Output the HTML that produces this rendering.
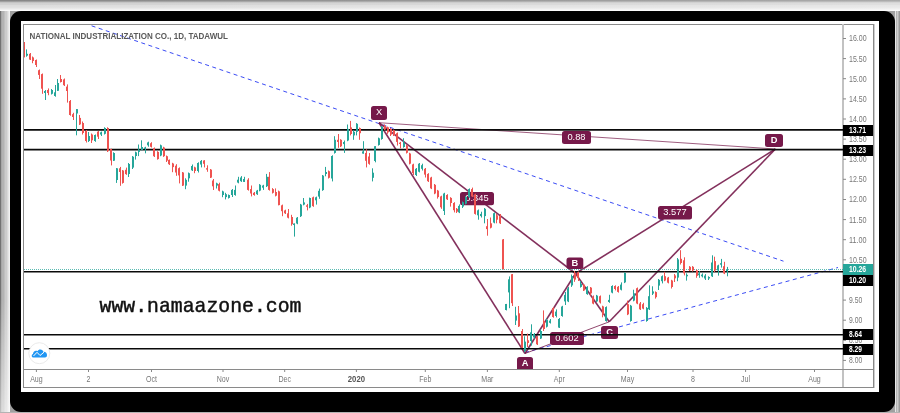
<!DOCTYPE html><html><head><meta charset="utf-8"><style>html,body{margin:0;padding:0;background:#fff;width:900px;height:413px;overflow:hidden}svg{display:block;will-change:transform}text{font-family:"Liberation Sans",sans-serif}</style></head><body>
<svg width="900" height="413" viewBox="0 0 900 413">
<rect x="0" y="0" width="900" height="413" fill="#fff"/>
<rect x="0" y="0" width="900" height="1" fill="rgb(135,135,135)"/>
<rect x="0" y="1" width="900" height="1" fill="rgb(160,160,160)"/>
<rect x="0" y="2" width="900" height="1" fill="rgb(195,195,195)"/>
<rect x="0" y="3" width="900" height="1" fill="rgb(208,208,208)"/>
<rect x="0" y="4" width="900" height="1" fill="rgb(210,210,210)"/>
<rect x="0" y="5" width="900" height="1" fill="rgb(220,220,220)"/>
<rect x="0" y="6" width="900" height="1" fill="rgb(222,222,222)"/>
<rect x="0" y="7" width="900" height="1" fill="rgb(225,225,225)"/>
<rect x="0" y="8" width="900" height="1" fill="rgb(232,232,232)"/>
<rect x="0" y="9" width="900" height="1" fill="rgb(240,240,240)"/>
<rect x="0" y="10" width="900" height="1" fill="rgb(250,250,250)"/>
<rect x="0" y="11" width="1" height="402" fill="rgb(115,115,115)"/>
<rect x="1" y="11" width="1" height="402" fill="rgb(166,166,166)"/>
<rect x="2" y="11" width="1" height="402" fill="rgb(179,179,179)"/>
<rect x="3" y="11" width="1" height="402" fill="rgb(179,179,179)"/>
<rect x="4" y="11" width="1" height="402" fill="rgb(191,191,191)"/>
<rect x="5" y="11" width="1" height="402" fill="rgb(204,204,204)"/>
<rect x="6" y="11" width="1" height="402" fill="rgb(204,204,204)"/>
<rect x="7" y="11" width="1" height="402" fill="rgb(217,217,217)"/>
<rect x="8" y="11" width="1" height="402" fill="rgb(230,230,230)"/>
<rect x="9" y="11" width="1" height="402" fill="rgb(242,242,242)"/>
<defs><linearGradient id="lb" x1="0" y1="0" x2="0" y2="1"><stop offset="0" stop-color="#fff" stop-opacity="0"/><stop offset="1" stop-color="#fff" stop-opacity="0.55"/></linearGradient><linearGradient id="tb" x1="0" y1="0" x2="1" y2="0"><stop offset="0" stop-color="#fff" stop-opacity="0"/><stop offset="1" stop-color="#fff" stop-opacity="0.3"/></linearGradient></defs>
<rect x="0" y="300" width="10" height="113" fill="url(#lb)"/>
<rect x="0" y="0" width="900" height="11" fill="url(#tb)"/>
<rect x="895" y="11" width="1" height="402" fill="rgb(230,230,230)"/>
<rect x="896" y="11" width="1" height="402" fill="rgb(179,179,179)"/>
<rect x="897" y="11" width="1" height="402" fill="rgb(204,204,204)"/>
<rect x="898" y="11" width="1" height="402" fill="rgb(179,179,179)"/>
<rect x="899" y="11" width="1" height="402" fill="rgb(153,153,153)"/>
<rect x="0" y="412" width="900" height="1" fill="rgb(179,179,179)"/>
<rect x="10" y="11" width="885" height="401" fill="#a0a0a0"/>
<rect x="10" y="11" width="885" height="401" rx="11" ry="11" fill="#000"/>
<rect x="21" y="21" width="858" height="371" fill="#fff"/>
<rect x="23.5" y="24.5" width="850" height="363" fill="none" stroke="#8a8a8a" stroke-width="1"/>
<rect x="874" y="24" width="1" height="364" fill="#cfcfcf"/>
<rect x="842" y="24" width="2" height="363" fill="#c2c2c2"/>
<line x1="23" y1="369.5" x2="873" y2="369.5" stroke="#8a8a8a" stroke-width="1"/>
<defs><clipPath id="c"><rect x="24" y="25" width="819" height="344"/></clipPath></defs>
<g clip-path="url(#c)">
<line x1="91.6" y1="25.8" x2="783.5" y2="261.2" stroke="#3b4cf5" stroke-width="1" stroke-dasharray="4 3.5"/>
<line x1="525" y1="352.5" x2="838" y2="267.5" stroke="#3b4cf5" stroke-width="1" stroke-dasharray="4 3.5"/>
<line x1="379" y1="122.7" x2="775.4" y2="149" stroke="#76194a" stroke-width="1" stroke-opacity="0.7"/>
<line x1="525" y1="353.5" x2="609.2" y2="321.8" stroke="#76194a" stroke-width="1" stroke-opacity="0.8"/>
<line x1="379" y1="122.7" x2="525" y2="353.5" stroke="#76194a" stroke-width="1.6" stroke-opacity="0.9"/>
<line x1="525" y1="353.5" x2="575.5" y2="273.5" stroke="#76194a" stroke-width="1.6" stroke-opacity="0.9"/>
<line x1="575.5" y1="273.5" x2="609.2" y2="321.8" stroke="#76194a" stroke-width="1.6" stroke-opacity="0.9"/>
<line x1="609.2" y1="321.8" x2="775.4" y2="149" stroke="#76194a" stroke-width="1.6" stroke-opacity="0.9"/>
<line x1="379" y1="122.7" x2="575.5" y2="273.5" stroke="#76194a" stroke-width="1.6" stroke-opacity="0.9"/>
<line x1="575.5" y1="273.5" x2="775.4" y2="149" stroke="#76194a" stroke-width="1.6" stroke-opacity="0.9"/>
<rect x="371" y="106" width="16" height="14" rx="2.5" fill="#76194a"/>
<text x="379.0" y="114.6" font-size="9.3" fill="#fff" text-anchor="middle">X</text>
<rect x="517" y="357" width="16" height="14" rx="2.5" fill="#76194a"/>
<text x="525.0" y="365.6" font-size="9.3" fill="#fff" text-anchor="middle" font-weight="bold">A</text>
<rect x="566.5" y="257.5" width="16.799999999999955" height="11.5" rx="2.5" fill="#76194a"/>
<text x="574.9" y="266.1" font-size="9.3" fill="#fff" text-anchor="middle" font-weight="bold">B</text>
<rect x="601" y="326" width="17" height="13" rx="2.5" fill="#76194a"/>
<text x="609.5" y="334.6" font-size="9.3" fill="#fff" text-anchor="middle" font-weight="bold">C</text>
<rect x="765" y="134" width="18" height="13" rx="2.5" fill="#76194a"/>
<text x="774.0" y="142.6" font-size="9.3" fill="#fff" text-anchor="middle" font-weight="bold">D</text>
<rect x="562" y="131" width="29" height="13" rx="2.5" fill="#76194a"/>
<text x="576.5" y="139.6" font-size="9.3" fill="#fff" text-anchor="middle">0.88</text>
<rect x="460" y="192" width="34" height="13.300000000000011" rx="2.5" fill="#76194a"/>
<text x="477.0" y="200.6" font-size="9.3" fill="#fff" text-anchor="middle">0.345</text>
<rect x="658" y="206" width="34" height="13.599999999999994" rx="2.5" fill="#76194a"/>
<text x="675.0" y="214.6" font-size="9.3" fill="#fff" text-anchor="middle">3.577</text>
<rect x="550" y="332" width="34" height="13" rx="2.5" fill="#76194a"/>
<text x="567.0" y="340.6" font-size="9.3" fill="#fff" text-anchor="middle">0.602</text>
<line x1="24" y1="129.9" x2="843" y2="129.9" stroke="#0a0a0a" stroke-width="1.6"/>
<line x1="24" y1="149.6" x2="843" y2="149.6" stroke="#0a0a0a" stroke-width="1.6"/>
<line x1="24" y1="271.8" x2="843" y2="271.8" stroke="#0a0a0a" stroke-width="1.6"/>
<line x1="24" y1="334.7" x2="843" y2="334.7" stroke="#0a0a0a" stroke-width="1.6"/>
<line x1="24" y1="348.7" x2="843" y2="348.7" stroke="#0a0a0a" stroke-width="1.6"/>
<line x1="24" y1="269.5" x2="843" y2="269.5" stroke="#26a69a" stroke-width="1" stroke-dasharray="1 1" stroke-opacity="0.75"/>
<rect x="24" y="42.0" width="1" height="15.4" fill="#ef5350"/>
<rect x="23" y="42.0" width="2" height="15.0" fill="#ef5350"/>
<rect x="26" y="49.4" width="1" height="7.3" fill="#26a69a"/>
<rect x="26" y="53.8" width="2" height="1.9" fill="#26a69a"/>
<rect x="30" y="53.0" width="1" height="7.0" fill="#ef5350"/>
<rect x="29" y="53.8" width="2" height="5.8" fill="#ef5350"/>
<rect x="32" y="56.5" width="1" height="6.7" fill="#ef5350"/>
<rect x="32" y="57.4" width="2" height="3.6" fill="#ef5350"/>
<rect x="36" y="59.5" width="1" height="7.5" fill="#ef5350"/>
<rect x="35" y="60.0" width="2" height="5.0" fill="#ef5350"/>
<rect x="39" y="69.5" width="1" height="9.5" fill="#ef5350"/>
<rect x="38" y="70.2" width="2" height="4.7" fill="#ef5350"/>
<rect x="42" y="73.5" width="1" height="20.3" fill="#ef5350"/>
<rect x="41" y="74.1" width="2" height="14.6" fill="#ef5350"/>
<rect x="45" y="90.0" width="1" height="10.0" fill="#26a69a"/>
<rect x="44" y="91.0" width="2" height="2.0" fill="#26a69a"/>
<rect x="48" y="88.4" width="1" height="6.8" fill="#ef5350"/>
<rect x="47" y="90.0" width="2" height="3.0" fill="#ef5350"/>
<rect x="51" y="89.0" width="1" height="5.5" fill="#26a69a"/>
<rect x="51" y="90.0" width="2" height="3.8" fill="#26a69a"/>
<rect x="55" y="85.0" width="1" height="11.7" fill="#26a69a"/>
<rect x="54" y="92.3" width="2" height="3.7" fill="#26a69a"/>
<rect x="57" y="79.0" width="1" height="11.8" fill="#26a69a"/>
<rect x="57" y="83.0" width="2" height="7.8" fill="#26a69a"/>
<rect x="60" y="75.0" width="1" height="7.5" fill="#ef5350"/>
<rect x="60" y="79.0" width="2" height="3.0" fill="#ef5350"/>
<rect x="64" y="78.5" width="1" height="7.5" fill="#ef5350"/>
<rect x="63" y="79.4" width="2" height="5.8" fill="#ef5350"/>
<rect x="67" y="84.4" width="1" height="18.2" fill="#ef5350"/>
<rect x="66" y="86.6" width="2" height="4.4" fill="#ef5350"/>
<rect x="70" y="100.0" width="1" height="15.7" fill="#ef5350"/>
<rect x="69" y="101.0" width="2" height="14.0" fill="#ef5350"/>
<rect x="73" y="112.8" width="1" height="7.2" fill="#ef5350"/>
<rect x="72" y="114.2" width="2" height="2.8" fill="#ef5350"/>
<rect x="76" y="109.1" width="1" height="26.2" fill="#26a69a"/>
<rect x="76" y="109.1" width="2" height="4.4" fill="#26a69a"/>
<rect x="79" y="115.0" width="1" height="10.0" fill="#ef5350"/>
<rect x="79" y="117.9" width="2" height="6.5" fill="#ef5350"/>
<rect x="82" y="121.5" width="1" height="13.0" fill="#ef5350"/>
<rect x="82" y="123.0" width="2" height="10.0" fill="#ef5350"/>
<rect x="86" y="130.0" width="1" height="12.5" fill="#ef5350"/>
<rect x="85" y="131.0" width="2" height="10.0" fill="#ef5350"/>
<rect x="88" y="132.0" width="1" height="10.0" fill="#26a69a"/>
<rect x="88" y="136.0" width="2" height="5.0" fill="#26a69a"/>
<rect x="91" y="133.5" width="1" height="9.5" fill="#ef5350"/>
<rect x="91" y="134.5" width="2" height="5.8" fill="#ef5350"/>
<rect x="95" y="134.5" width="1" height="7.3" fill="#26a69a"/>
<rect x="94" y="135.0" width="2" height="6.0" fill="#26a69a"/>
<rect x="98" y="131.0" width="1" height="8.0" fill="#ef5350"/>
<rect x="97" y="131.6" width="2" height="5.1" fill="#ef5350"/>
<rect x="101" y="131.6" width="1" height="4.4" fill="#26a69a"/>
<rect x="100" y="132.3" width="2" height="2.2" fill="#26a69a"/>
<rect x="104" y="127.3" width="1" height="7.2" fill="#26a69a"/>
<rect x="104" y="128.0" width="2" height="5.8" fill="#26a69a"/>
<rect x="107" y="127.3" width="1" height="24.7" fill="#ef5350"/>
<rect x="107" y="128.0" width="2" height="23.2" fill="#ef5350"/>
<rect x="111" y="148.7" width="1" height="16.7" fill="#ef5350"/>
<rect x="110" y="149.0" width="2" height="11.5" fill="#ef5350"/>
<rect x="113" y="152.3" width="1" height="8.7" fill="#26a69a"/>
<rect x="113" y="153.0" width="2" height="7.7" fill="#26a69a"/>
<rect x="116" y="168.0" width="1" height="14.9" fill="#26a69a"/>
<rect x="116" y="168.3" width="2" height="11.7" fill="#26a69a"/>
<rect x="120" y="166.9" width="1" height="18.9" fill="#ef5350"/>
<rect x="119" y="168.3" width="2" height="3.7" fill="#ef5350"/>
<rect x="122" y="170.0" width="1" height="13.6" fill="#ef5350"/>
<rect x="122" y="170.5" width="2" height="12.4" fill="#ef5350"/>
<rect x="126" y="167.6" width="1" height="7.2" fill="#ef5350"/>
<rect x="125" y="169.8" width="2" height="4.3" fill="#ef5350"/>
<rect x="128" y="163.0" width="1" height="14.0" fill="#26a69a"/>
<rect x="128" y="164.0" width="2" height="10.0" fill="#26a69a"/>
<rect x="132" y="156.0" width="1" height="13.0" fill="#26a69a"/>
<rect x="132" y="156.7" width="2" height="10.9" fill="#26a69a"/>
<rect x="135" y="151.6" width="1" height="8.0" fill="#26a69a"/>
<rect x="135" y="152.3" width="2" height="3.7" fill="#26a69a"/>
<rect x="138" y="144.5" width="1" height="11.6" fill="#26a69a"/>
<rect x="138" y="149.7" width="2" height="2.2" fill="#26a69a"/>
<rect x="141" y="140.3" width="1" height="10.1" fill="#26a69a"/>
<rect x="141" y="147.0" width="2" height="3.0" fill="#26a69a"/>
<rect x="145" y="146.8" width="1" height="6.5" fill="#26a69a"/>
<rect x="144" y="147.5" width="2" height="1.5" fill="#26a69a"/>
<rect x="148" y="141.7" width="1" height="5.0" fill="#26a69a"/>
<rect x="147" y="142.4" width="2" height="2.9" fill="#26a69a"/>
<rect x="151" y="142.2" width="1" height="5.3" fill="#ef5350"/>
<rect x="150" y="143.2" width="2" height="3.6" fill="#ef5350"/>
<rect x="154" y="147.5" width="1" height="9.5" fill="#ef5350"/>
<rect x="153" y="148.2" width="2" height="8.0" fill="#ef5350"/>
<rect x="157" y="151.2" width="1" height="8.4" fill="#ef5350"/>
<rect x="157" y="151.9" width="2" height="7.2" fill="#ef5350"/>
<rect x="160" y="144.6" width="1" height="11.6" fill="#26a69a"/>
<rect x="160" y="145.3" width="2" height="10.2" fill="#26a69a"/>
<rect x="163" y="146.8" width="1" height="10.1" fill="#ef5350"/>
<rect x="163" y="147.5" width="2" height="8.7" fill="#ef5350"/>
<rect x="166" y="155.5" width="1" height="6.5" fill="#ef5350"/>
<rect x="166" y="156.2" width="2" height="4.4" fill="#ef5350"/>
<rect x="169" y="159.5" width="1" height="5.5" fill="#ef5350"/>
<rect x="168" y="159.9" width="2" height="4.3" fill="#ef5350"/>
<rect x="172" y="162.8" width="1" height="9.4" fill="#ef5350"/>
<rect x="172" y="163.5" width="2" height="3.6" fill="#ef5350"/>
<rect x="176" y="164.2" width="1" height="11.6" fill="#ef5350"/>
<rect x="175" y="165.7" width="2" height="6.8" fill="#ef5350"/>
<rect x="179" y="167.4" width="1" height="16.0" fill="#ef5350"/>
<rect x="178" y="168.2" width="2" height="7.2" fill="#ef5350"/>
<rect x="182" y="172.0" width="1" height="14.0" fill="#ef5350"/>
<rect x="182" y="172.5" width="2" height="13.1" fill="#ef5350"/>
<rect x="185" y="178.3" width="1" height="10.9" fill="#26a69a"/>
<rect x="185" y="179.8" width="2" height="5.8" fill="#26a69a"/>
<rect x="188" y="172.5" width="1" height="9.2" fill="#26a69a"/>
<rect x="188" y="173.2" width="2" height="5.1" fill="#26a69a"/>
<rect x="192" y="164.5" width="1" height="6.5" fill="#26a69a"/>
<rect x="191" y="166.0" width="2" height="4.3" fill="#26a69a"/>
<rect x="194" y="166.7" width="1" height="6.5" fill="#ef5350"/>
<rect x="194" y="167.4" width="2" height="3.6" fill="#ef5350"/>
<rect x="198" y="162.3" width="1" height="10.2" fill="#26a69a"/>
<rect x="197" y="163.0" width="2" height="8.0" fill="#26a69a"/>
<rect x="201" y="160.0" width="1" height="7.4" fill="#26a69a"/>
<rect x="200" y="160.9" width="2" height="3.6" fill="#26a69a"/>
<rect x="204" y="160.2" width="1" height="7.2" fill="#ef5350"/>
<rect x="203" y="160.5" width="2" height="3.3" fill="#ef5350"/>
<rect x="207" y="165.3" width="1" height="6.5" fill="#ef5350"/>
<rect x="206" y="168.2" width="2" height="1.4" fill="#ef5350"/>
<rect x="210" y="169.0" width="1" height="9.0" fill="#ef5350"/>
<rect x="210" y="169.6" width="2" height="8.0" fill="#ef5350"/>
<rect x="213" y="179.0" width="1" height="11.0" fill="#ef5350"/>
<rect x="212" y="180.5" width="2" height="5.8" fill="#ef5350"/>
<rect x="216" y="182.7" width="1" height="5.8" fill="#26a69a"/>
<rect x="216" y="183.4" width="2" height="2.2" fill="#26a69a"/>
<rect x="219" y="182.7" width="1" height="8.7" fill="#ef5350"/>
<rect x="218" y="184.1" width="2" height="6.6" fill="#ef5350"/>
<rect x="222" y="190.7" width="1" height="6.5" fill="#26a69a"/>
<rect x="222" y="191.4" width="2" height="3.6" fill="#26a69a"/>
<rect x="225" y="192.8" width="1" height="6.6" fill="#26a69a"/>
<rect x="225" y="194.2" width="2" height="2.9" fill="#26a69a"/>
<rect x="228" y="194.5" width="1" height="4.0" fill="#26a69a"/>
<rect x="228" y="195.0" width="2" height="2.9" fill="#26a69a"/>
<rect x="232" y="189.0" width="1" height="8.0" fill="#26a69a"/>
<rect x="231" y="189.9" width="2" height="5.1" fill="#26a69a"/>
<rect x="235" y="185.5" width="1" height="10.2" fill="#26a69a"/>
<rect x="234" y="189.9" width="2" height="5.1" fill="#26a69a"/>
<rect x="238" y="176.8" width="1" height="6.5" fill="#26a69a"/>
<rect x="237" y="179.7" width="2" height="2.9" fill="#26a69a"/>
<rect x="241" y="176.1" width="1" height="5.8" fill="#26a69a"/>
<rect x="240" y="177.5" width="2" height="3.7" fill="#26a69a"/>
<rect x="244" y="176.8" width="1" height="5.1" fill="#26a69a"/>
<rect x="243" y="179.0" width="2" height="2.9" fill="#26a69a"/>
<rect x="248" y="178.2" width="1" height="12.4" fill="#ef5350"/>
<rect x="247" y="179.7" width="2" height="10.2" fill="#ef5350"/>
<rect x="251" y="185.5" width="1" height="10.9" fill="#ef5350"/>
<rect x="250" y="189.1" width="2" height="4.4" fill="#ef5350"/>
<rect x="254" y="192.0" width="1" height="3.7" fill="#ef5350"/>
<rect x="253" y="192.8" width="2" height="2.2" fill="#ef5350"/>
<rect x="257" y="189.9" width="1" height="5.0" fill="#26a69a"/>
<rect x="256" y="190.6" width="2" height="3.6" fill="#26a69a"/>
<rect x="259" y="184.1" width="1" height="7.2" fill="#26a69a"/>
<rect x="259" y="184.8" width="2" height="5.8" fill="#26a69a"/>
<rect x="263" y="184.8" width="1" height="5.1" fill="#26a69a"/>
<rect x="262" y="185.5" width="2" height="2.2" fill="#26a69a"/>
<rect x="266" y="173.9" width="1" height="13.1" fill="#26a69a"/>
<rect x="266" y="176.8" width="2" height="9.4" fill="#26a69a"/>
<rect x="269" y="172.1" width="1" height="18.5" fill="#ef5350"/>
<rect x="268" y="176.8" width="2" height="13.1" fill="#ef5350"/>
<rect x="272" y="188.1" width="1" height="5.4" fill="#ef5350"/>
<rect x="272" y="189.1" width="2" height="3.7" fill="#ef5350"/>
<rect x="275" y="188.4" width="1" height="8.0" fill="#ef5350"/>
<rect x="275" y="192.0" width="2" height="3.7" fill="#ef5350"/>
<rect x="278" y="190.6" width="1" height="14.7" fill="#ef5350"/>
<rect x="278" y="191.3" width="2" height="13.8" fill="#ef5350"/>
<rect x="282" y="204.6" width="1" height="11.6" fill="#ef5350"/>
<rect x="281" y="205.3" width="2" height="5.9" fill="#ef5350"/>
<rect x="285" y="209.7" width="1" height="4.3" fill="#ef5350"/>
<rect x="284" y="210.4" width="2" height="2.9" fill="#ef5350"/>
<rect x="288" y="209.0" width="1" height="9.4" fill="#ef5350"/>
<rect x="287" y="213.3" width="2" height="4.4" fill="#ef5350"/>
<rect x="291" y="214.8" width="1" height="10.9" fill="#ef5350"/>
<rect x="291" y="217.0" width="2" height="7.2" fill="#ef5350"/>
<rect x="294" y="223.5" width="1" height="13.1" fill="#26a69a"/>
<rect x="293" y="223.5" width="2" height="1.5" fill="#26a69a"/>
<rect x="297" y="217.0" width="1" height="7.2" fill="#26a69a"/>
<rect x="296" y="217.7" width="2" height="5.8" fill="#26a69a"/>
<rect x="300" y="203.9" width="1" height="13.1" fill="#26a69a"/>
<rect x="300" y="204.6" width="2" height="11.6" fill="#26a69a"/>
<rect x="303" y="198.0" width="1" height="7.3" fill="#26a69a"/>
<rect x="303" y="202.4" width="2" height="2.2" fill="#26a69a"/>
<rect x="307" y="203.9" width="1" height="6.5" fill="#ef5350"/>
<rect x="306" y="205.3" width="2" height="1.5" fill="#ef5350"/>
<rect x="309" y="197.6" width="1" height="10.6" fill="#26a69a"/>
<rect x="309" y="198.0" width="2" height="9.5" fill="#26a69a"/>
<rect x="313" y="196.6" width="1" height="10.2" fill="#ef5350"/>
<rect x="312" y="197.3" width="2" height="8.8" fill="#ef5350"/>
<rect x="316" y="196.6" width="1" height="8.0" fill="#26a69a"/>
<rect x="315" y="197.3" width="2" height="3.0" fill="#26a69a"/>
<rect x="319" y="188.6" width="1" height="10.2" fill="#26a69a"/>
<rect x="318" y="190.8" width="2" height="5.8" fill="#26a69a"/>
<rect x="322" y="175.0" width="1" height="15.8" fill="#26a69a"/>
<rect x="322" y="175.6" width="2" height="14.5" fill="#26a69a"/>
<rect x="325" y="166.9" width="1" height="9.4" fill="#26a69a"/>
<rect x="325" y="172.0" width="2" height="2.0" fill="#26a69a"/>
<rect x="328" y="170.5" width="1" height="8.0" fill="#ef5350"/>
<rect x="328" y="171.2" width="2" height="6.6" fill="#ef5350"/>
<rect x="332" y="155.3" width="1" height="26.1" fill="#26a69a"/>
<rect x="331" y="156.0" width="2" height="22.5" fill="#26a69a"/>
<rect x="334" y="136.2" width="1" height="17.4" fill="#26a69a"/>
<rect x="334" y="139.8" width="2" height="13.1" fill="#26a69a"/>
<rect x="338" y="134.0" width="1" height="13.8" fill="#ef5350"/>
<rect x="337" y="139.8" width="2" height="2.2" fill="#ef5350"/>
<rect x="340" y="139.2" width="1" height="7.8" fill="#ef5350"/>
<rect x="340" y="139.8" width="2" height="6.5" fill="#ef5350"/>
<rect x="344" y="140.5" width="1" height="12.4" fill="#26a69a"/>
<rect x="343" y="142.0" width="2" height="2.1" fill="#26a69a"/>
<rect x="347" y="124.5" width="1" height="16.7" fill="#26a69a"/>
<rect x="347" y="128.9" width="2" height="11.6" fill="#26a69a"/>
<rect x="350" y="120.9" width="1" height="14.5" fill="#ef5350"/>
<rect x="350" y="127.4" width="2" height="6.6" fill="#ef5350"/>
<rect x="353" y="130.3" width="1" height="9.5" fill="#26a69a"/>
<rect x="353" y="131.8" width="2" height="3.6" fill="#26a69a"/>
<rect x="356" y="123.1" width="1" height="12.3" fill="#26a69a"/>
<rect x="356" y="123.8" width="2" height="8.0" fill="#26a69a"/>
<rect x="359" y="127.5" width="1" height="12.3" fill="#ef5350"/>
<rect x="359" y="128.2" width="2" height="5.0" fill="#ef5350"/>
<rect x="363" y="141.2" width="1" height="12.4" fill="#26a69a"/>
<rect x="362" y="151.4" width="2" height="2.2" fill="#26a69a"/>
<rect x="366" y="149.2" width="1" height="18.2" fill="#ef5350"/>
<rect x="365" y="152.9" width="2" height="7.9" fill="#ef5350"/>
<rect x="369" y="153.0" width="1" height="11.7" fill="#ef5350"/>
<rect x="368" y="156.5" width="2" height="7.3" fill="#ef5350"/>
<rect x="372" y="168.3" width="1" height="13.1" fill="#26a69a"/>
<rect x="372" y="172.7" width="2" height="5.1" fill="#26a69a"/>
<rect x="375" y="146.3" width="1" height="16.0" fill="#26a69a"/>
<rect x="374" y="146.2" width="2" height="14.8" fill="#26a69a"/>
<rect x="378" y="137.6" width="1" height="8.0" fill="#26a69a"/>
<rect x="378" y="138.3" width="2" height="6.6" fill="#26a69a"/>
<rect x="381" y="126.0" width="1" height="13.7" fill="#26a69a"/>
<rect x="381" y="126.7" width="2" height="12.3" fill="#26a69a"/>
<rect x="384" y="124.4" width="1" height="5.8" fill="#ef5350"/>
<rect x="384" y="125.9" width="2" height="3.6" fill="#ef5350"/>
<rect x="387" y="126.6" width="1" height="7.3" fill="#ef5350"/>
<rect x="387" y="127.3" width="2" height="5.1" fill="#ef5350"/>
<rect x="390" y="128.0" width="1" height="8.0" fill="#ef5350"/>
<rect x="390" y="128.8" width="2" height="5.8" fill="#ef5350"/>
<rect x="393" y="129.6" width="1" height="6.4" fill="#ef5350"/>
<rect x="393" y="130.3" width="2" height="5.0" fill="#ef5350"/>
<rect x="397" y="132.5" width="1" height="13.0" fill="#ef5350"/>
<rect x="396" y="133.2" width="2" height="8.7" fill="#ef5350"/>
<rect x="400" y="141.9" width="1" height="6.5" fill="#ef5350"/>
<rect x="399" y="142.6" width="2" height="1.4" fill="#ef5350"/>
<rect x="403" y="138.2" width="1" height="9.5" fill="#26a69a"/>
<rect x="403" y="142.6" width="2" height="4.4" fill="#26a69a"/>
<rect x="406" y="144.8" width="1" height="8.7" fill="#ef5350"/>
<rect x="406" y="145.5" width="2" height="7.3" fill="#ef5350"/>
<rect x="409" y="152.8" width="1" height="11.6" fill="#ef5350"/>
<rect x="409" y="153.5" width="2" height="10.2" fill="#ef5350"/>
<rect x="413" y="163.7" width="1" height="11.3" fill="#ef5350"/>
<rect x="412" y="164.4" width="2" height="8.7" fill="#ef5350"/>
<rect x="416" y="168.0" width="1" height="8.0" fill="#26a69a"/>
<rect x="415" y="168.8" width="2" height="6.2" fill="#26a69a"/>
<rect x="419" y="163.0" width="1" height="9.4" fill="#26a69a"/>
<rect x="418" y="163.7" width="2" height="8.0" fill="#26a69a"/>
<rect x="422" y="163.7" width="1" height="6.8" fill="#26a69a"/>
<rect x="421" y="165.2" width="2" height="3.6" fill="#26a69a"/>
<rect x="425" y="168.0" width="1" height="9.5" fill="#ef5350"/>
<rect x="424" y="168.8" width="2" height="5.8" fill="#ef5350"/>
<rect x="428" y="173.2" width="1" height="8.8" fill="#ef5350"/>
<rect x="427" y="173.9" width="2" height="7.3" fill="#ef5350"/>
<rect x="431" y="176.8" width="1" height="12.3" fill="#ef5350"/>
<rect x="430" y="177.5" width="2" height="10.9" fill="#ef5350"/>
<rect x="434" y="184.0" width="1" height="10.2" fill="#ef5350"/>
<rect x="434" y="184.8" width="2" height="8.7" fill="#ef5350"/>
<rect x="437" y="189.9" width="1" height="8.7" fill="#ef5350"/>
<rect x="437" y="190.6" width="2" height="6.5" fill="#ef5350"/>
<rect x="441" y="195.7" width="1" height="13.1" fill="#ef5350"/>
<rect x="440" y="196.4" width="2" height="10.9" fill="#ef5350"/>
<rect x="444" y="192.8" width="1" height="22.2" fill="#26a69a"/>
<rect x="443" y="193.5" width="2" height="17.5" fill="#26a69a"/>
<rect x="447" y="194.2" width="1" height="5.8" fill="#ef5350"/>
<rect x="446" y="195.0" width="2" height="4.3" fill="#ef5350"/>
<rect x="450" y="197.2" width="1" height="9.4" fill="#ef5350"/>
<rect x="450" y="197.9" width="2" height="5.1" fill="#ef5350"/>
<rect x="454" y="202.2" width="1" height="10.2" fill="#ef5350"/>
<rect x="453" y="203.0" width="2" height="7.2" fill="#ef5350"/>
<rect x="456" y="208.0" width="1" height="5.0" fill="#ef5350"/>
<rect x="456" y="208.8" width="2" height="2.9" fill="#ef5350"/>
<rect x="459" y="204.4" width="1" height="8.7" fill="#26a69a"/>
<rect x="458" y="205.9" width="2" height="6.5" fill="#26a69a"/>
<rect x="462" y="201.5" width="1" height="6.5" fill="#26a69a"/>
<rect x="462" y="202.2" width="2" height="4.4" fill="#26a69a"/>
<rect x="465" y="196.4" width="1" height="8.0" fill="#26a69a"/>
<rect x="465" y="197.1" width="2" height="6.6" fill="#26a69a"/>
<rect x="469" y="188.4" width="1" height="9.4" fill="#26a69a"/>
<rect x="468" y="189.1" width="2" height="8.0" fill="#26a69a"/>
<rect x="472" y="187.6" width="1" height="9.4" fill="#ef5350"/>
<rect x="471" y="189.1" width="2" height="7.3" fill="#ef5350"/>
<rect x="475" y="193.7" width="1" height="20.9" fill="#ef5350"/>
<rect x="474" y="194.4" width="2" height="19.5" fill="#ef5350"/>
<rect x="478" y="209.5" width="1" height="10.2" fill="#26a69a"/>
<rect x="477" y="210.3" width="2" height="5.0" fill="#26a69a"/>
<rect x="481" y="211.7" width="1" height="5.8" fill="#26a69a"/>
<rect x="480" y="213.9" width="2" height="2.2" fill="#26a69a"/>
<rect x="484" y="208.0" width="1" height="15.3" fill="#26a69a"/>
<rect x="484" y="208.8" width="2" height="7.3" fill="#26a69a"/>
<rect x="487" y="219.0" width="1" height="16.7" fill="#ef5350"/>
<rect x="486" y="226.2" width="2" height="2.9" fill="#ef5350"/>
<rect x="490" y="217.5" width="1" height="10.9" fill="#ef5350"/>
<rect x="490" y="223.3" width="2" height="4.4" fill="#ef5350"/>
<rect x="494" y="212.4" width="1" height="10.9" fill="#26a69a"/>
<rect x="493" y="213.2" width="2" height="9.4" fill="#26a69a"/>
<rect x="496" y="213.9" width="1" height="9.4" fill="#ef5350"/>
<rect x="496" y="215.3" width="2" height="4.4" fill="#ef5350"/>
<rect x="500" y="214.0" width="1" height="10.0" fill="#ef5350"/>
<rect x="499" y="216.1" width="2" height="7.2" fill="#ef5350"/>
<rect x="503" y="239.0" width="1" height="30.5" fill="#ef5350"/>
<rect x="502" y="239.4" width="2" height="29.7" fill="#ef5350"/>
<rect x="506" y="303.9" width="1" height="6.5" fill="#26a69a"/>
<rect x="505" y="304.0" width="2" height="6.0" fill="#26a69a"/>
<rect x="509" y="276.4" width="1" height="31.8" fill="#26a69a"/>
<rect x="508" y="279.3" width="2" height="13.1" fill="#26a69a"/>
<rect x="512" y="274.0" width="1" height="32.0" fill="#ef5350"/>
<rect x="511" y="274.2" width="2" height="29.0" fill="#ef5350"/>
<rect x="515" y="306.8" width="1" height="18.2" fill="#26a69a"/>
<rect x="515" y="315.5" width="2" height="5.1" fill="#26a69a"/>
<rect x="518" y="306.0" width="1" height="21.0" fill="#ef5350"/>
<rect x="518" y="313.3" width="2" height="13.1" fill="#ef5350"/>
<rect x="522" y="329.0" width="1" height="19.0" fill="#ef5350"/>
<rect x="521" y="331.0" width="2" height="16.6" fill="#ef5350"/>
<rect x="524" y="336.3" width="1" height="16.0" fill="#26a69a"/>
<rect x="524" y="341.6" width="2" height="9.4" fill="#26a69a"/>
<rect x="527" y="333.6" width="1" height="13.4" fill="#ef5350"/>
<rect x="527" y="340.3" width="2" height="2.7" fill="#ef5350"/>
<rect x="531" y="324.3" width="1" height="21.3" fill="#26a69a"/>
<rect x="530" y="332.3" width="2" height="8.7" fill="#26a69a"/>
<rect x="534" y="333.0" width="1" height="5.5" fill="#26a69a"/>
<rect x="533" y="334.0" width="2" height="3.5" fill="#26a69a"/>
<rect x="537" y="336.0" width="1" height="9.0" fill="#ef5350"/>
<rect x="536" y="337.0" width="2" height="7.3" fill="#ef5350"/>
<rect x="540" y="329.3" width="1" height="9.7" fill="#26a69a"/>
<rect x="540" y="331.0" width="2" height="7.5" fill="#26a69a"/>
<rect x="543" y="310.4" width="1" height="20.6" fill="#ef5350"/>
<rect x="543" y="321.0" width="2" height="8.0" fill="#ef5350"/>
<rect x="546" y="318.5" width="1" height="9.0" fill="#26a69a"/>
<rect x="546" y="320.0" width="2" height="6.7" fill="#26a69a"/>
<rect x="550" y="319.0" width="1" height="4.5" fill="#26a69a"/>
<rect x="549" y="320.6" width="2" height="2.2" fill="#26a69a"/>
<rect x="553" y="307.2" width="1" height="10.5" fill="#ef5350"/>
<rect x="552" y="308.2" width="2" height="8.8" fill="#ef5350"/>
<rect x="556" y="309.4" width="1" height="8.0" fill="#26a69a"/>
<rect x="555" y="311.6" width="2" height="4.4" fill="#26a69a"/>
<rect x="559" y="318.0" width="1" height="10.0" fill="#26a69a"/>
<rect x="558" y="319.0" width="2" height="8.6" fill="#26a69a"/>
<rect x="562" y="305.8" width="1" height="10.9" fill="#26a69a"/>
<rect x="561" y="306.5" width="2" height="9.5" fill="#26a69a"/>
<rect x="565" y="292.0" width="1" height="13.0" fill="#26a69a"/>
<rect x="564" y="294.9" width="2" height="6.5" fill="#26a69a"/>
<rect x="568" y="286.9" width="1" height="15.2" fill="#26a69a"/>
<rect x="567" y="288.3" width="2" height="13.1" fill="#26a69a"/>
<rect x="571" y="274.5" width="1" height="12.4" fill="#26a69a"/>
<rect x="571" y="276.0" width="2" height="9.4" fill="#26a69a"/>
<rect x="574" y="270.9" width="1" height="10.9" fill="#ef5350"/>
<rect x="574" y="273.1" width="2" height="6.5" fill="#ef5350"/>
<rect x="578" y="271.6" width="1" height="9.4" fill="#ef5350"/>
<rect x="577" y="272.3" width="2" height="5.1" fill="#ef5350"/>
<rect x="580" y="281.0" width="1" height="6.6" fill="#26a69a"/>
<rect x="580" y="284.0" width="2" height="2.9" fill="#26a69a"/>
<rect x="583" y="284.0" width="1" height="7.0" fill="#ef5350"/>
<rect x="583" y="284.7" width="2" height="5.8" fill="#ef5350"/>
<rect x="587" y="286.2" width="1" height="8.6" fill="#26a69a"/>
<rect x="586" y="286.9" width="2" height="7.2" fill="#26a69a"/>
<rect x="590" y="287.0" width="1" height="8.6" fill="#ef5350"/>
<rect x="590" y="287.6" width="2" height="5.8" fill="#ef5350"/>
<rect x="593" y="295.5" width="1" height="8.8" fill="#ef5350"/>
<rect x="592" y="297.0" width="2" height="6.6" fill="#ef5350"/>
<rect x="596" y="294.9" width="1" height="7.1" fill="#26a69a"/>
<rect x="596" y="295.6" width="2" height="5.8" fill="#26a69a"/>
<rect x="600" y="295.5" width="1" height="8.0" fill="#ef5350"/>
<rect x="599" y="296.2" width="2" height="6.3" fill="#ef5350"/>
<rect x="602" y="305.7" width="1" height="11.6" fill="#ef5350"/>
<rect x="602" y="306.4" width="2" height="8.0" fill="#ef5350"/>
<rect x="606" y="306.4" width="1" height="15.3" fill="#26a69a"/>
<rect x="605" y="307.1" width="2" height="13.9" fill="#26a69a"/>
<rect x="609" y="294.8" width="1" height="8.0" fill="#26a69a"/>
<rect x="608" y="299.9" width="2" height="2.1" fill="#26a69a"/>
<rect x="612" y="285.3" width="1" height="8.0" fill="#26a69a"/>
<rect x="611" y="286.0" width="2" height="6.6" fill="#26a69a"/>
<rect x="615" y="285.3" width="1" height="5.1" fill="#ef5350"/>
<rect x="614" y="286.0" width="2" height="3.0" fill="#ef5350"/>
<rect x="618" y="286.0" width="1" height="6.6" fill="#ef5350"/>
<rect x="617" y="286.8" width="2" height="5.1" fill="#ef5350"/>
<rect x="621" y="282.4" width="1" height="8.0" fill="#26a69a"/>
<rect x="620" y="284.6" width="2" height="5.1" fill="#26a69a"/>
<rect x="624" y="272.3" width="1" height="10.8" fill="#26a69a"/>
<rect x="624" y="273.0" width="2" height="9.4" fill="#26a69a"/>
<rect x="627" y="300.6" width="1" height="14.5" fill="#ef5350"/>
<rect x="627" y="304.2" width="2" height="10.2" fill="#ef5350"/>
<rect x="630" y="304.9" width="1" height="16.8" fill="#26a69a"/>
<rect x="630" y="305.7" width="2" height="15.3" fill="#26a69a"/>
<rect x="633" y="289.7" width="1" height="11.6" fill="#26a69a"/>
<rect x="633" y="293.3" width="2" height="7.3" fill="#26a69a"/>
<rect x="637" y="287.5" width="1" height="16.7" fill="#ef5350"/>
<rect x="636" y="288.2" width="2" height="15.3" fill="#ef5350"/>
<rect x="640" y="302.0" width="1" height="8.0" fill="#ef5350"/>
<rect x="639" y="303.5" width="2" height="5.8" fill="#ef5350"/>
<rect x="643" y="302.8" width="1" height="6.5" fill="#ef5350"/>
<rect x="642" y="304.2" width="2" height="4.4" fill="#ef5350"/>
<rect x="646" y="307.1" width="1" height="14.6" fill="#26a69a"/>
<rect x="646" y="307.9" width="2" height="13.1" fill="#26a69a"/>
<rect x="649" y="285.3" width="1" height="24.7" fill="#26a69a"/>
<rect x="648" y="296.2" width="2" height="13.1" fill="#26a69a"/>
<rect x="652" y="286.3" width="1" height="8.7" fill="#26a69a"/>
<rect x="652" y="291.4" width="2" height="2.2" fill="#26a69a"/>
<rect x="655" y="291.4" width="1" height="7.2" fill="#ef5350"/>
<rect x="655" y="292.1" width="2" height="5.1" fill="#ef5350"/>
<rect x="658" y="279.0" width="1" height="11.0" fill="#26a69a"/>
<rect x="658" y="279.8" width="2" height="5.8" fill="#26a69a"/>
<rect x="662" y="275.4" width="1" height="8.0" fill="#26a69a"/>
<rect x="661" y="276.2" width="2" height="5.0" fill="#26a69a"/>
<rect x="664" y="271.8" width="1" height="9.4" fill="#ef5350"/>
<rect x="664" y="276.2" width="2" height="4.3" fill="#ef5350"/>
<rect x="668" y="276.9" width="1" height="6.5" fill="#ef5350"/>
<rect x="667" y="277.6" width="2" height="5.1" fill="#ef5350"/>
<rect x="671" y="279.8" width="1" height="8.7" fill="#ef5350"/>
<rect x="671" y="280.5" width="2" height="6.5" fill="#ef5350"/>
<rect x="674" y="274.0" width="1" height="8.0" fill="#ef5350"/>
<rect x="674" y="275.4" width="2" height="2.9" fill="#ef5350"/>
<rect x="677" y="258.0" width="1" height="23.2" fill="#26a69a"/>
<rect x="677" y="259.4" width="2" height="18.2" fill="#26a69a"/>
<rect x="680" y="250.2" width="1" height="14.3" fill="#ef5350"/>
<rect x="680" y="258.8" width="2" height="4.2" fill="#ef5350"/>
<rect x="684" y="257.3" width="1" height="18.1" fill="#ef5350"/>
<rect x="683" y="260.3" width="2" height="13.0" fill="#ef5350"/>
<rect x="686" y="273.3" width="1" height="7.3" fill="#26a69a"/>
<rect x="686" y="274.8" width="2" height="1.5" fill="#26a69a"/>
<rect x="689" y="266.1" width="1" height="4.9" fill="#ef5350"/>
<rect x="689" y="266.8" width="2" height="3.6" fill="#ef5350"/>
<rect x="692" y="266.1" width="1" height="5.4" fill="#ef5350"/>
<rect x="692" y="266.8" width="2" height="3.6" fill="#ef5350"/>
<rect x="696" y="269.6" width="1" height="8.2" fill="#ef5350"/>
<rect x="696" y="270.4" width="2" height="5.5" fill="#ef5350"/>
<rect x="699" y="271.1" width="1" height="6.7" fill="#26a69a"/>
<rect x="698" y="273.4" width="2" height="1.8" fill="#26a69a"/>
<rect x="702" y="273.4" width="1" height="4.0" fill="#26a69a"/>
<rect x="701" y="274.6" width="2" height="1.7" fill="#26a69a"/>
<rect x="705" y="274.1" width="1" height="5.9" fill="#26a69a"/>
<rect x="704" y="275.6" width="2" height="2.9" fill="#26a69a"/>
<rect x="708" y="276.3" width="1" height="3.7" fill="#26a69a"/>
<rect x="708" y="277.0" width="2" height="1.5" fill="#26a69a"/>
<rect x="712" y="255.3" width="1" height="21.7" fill="#26a69a"/>
<rect x="711" y="262.5" width="2" height="13.8" fill="#26a69a"/>
<rect x="714" y="256.7" width="1" height="15.3" fill="#ef5350"/>
<rect x="714" y="261.1" width="2" height="9.4" fill="#ef5350"/>
<rect x="718" y="264.7" width="1" height="10.9" fill="#26a69a"/>
<rect x="717" y="265.4" width="2" height="5.1" fill="#26a69a"/>
<rect x="721" y="258.9" width="1" height="8.7" fill="#26a69a"/>
<rect x="720" y="263.2" width="2" height="1.5" fill="#26a69a"/>
<rect x="724" y="261.8" width="1" height="12.3" fill="#ef5350"/>
<rect x="723" y="266.2" width="2" height="7.2" fill="#ef5350"/>
<rect x="727" y="266.9" width="1" height="9.4" fill="#26a69a"/>
<rect x="726" y="269.8" width="2" height="1.4" fill="#26a69a"/>
</g>
<text x="29.5" y="39" font-size="8.6" font-weight="bold" fill="#5a5a5a" textLength="198.5" lengthAdjust="spacingAndGlyphs">NATIONAL INDUSTRIALIZATION CO., 1D, TADAWUL</text>
<text x="99.6" y="311.8" font-family="Liberation Mono" font-size="19.8" fill="#111" stroke="#111" stroke-width="0.45" style="font-family:'Liberation Mono',monospace">www.namaazone.com</text>
<circle cx="39.3" cy="353.2" r="10.5" fill="#fff" stroke="#e4e4e4" stroke-width="0.8"/>
<path d="M33,357.5 C31.5,357.5 31.2,354.6 33,354 C33,351.5 35.5,350 37.5,351.3 C38.5,349 42.5,348.8 43.3,351.8 C45.5,351.6 47.3,353.2 47,355.3 C47,356.8 46,357.5 45,357.5 Z" fill="#2196f3"/>
<polyline points="33.5,356 37,352.3 40,355.5 44,352.2" fill="none" stroke="#fff" stroke-width="1"/>
<line x1="843" y1="38.5" x2="846" y2="38.5" stroke="#888" stroke-width="1"/>
<text x="849" y="41.4" font-size="8.2" fill="#777" textLength="17.6" lengthAdjust="spacingAndGlyphs">16.00</text>
<line x1="843" y1="58.6" x2="846" y2="58.6" stroke="#888" stroke-width="1"/>
<text x="849" y="61.5" font-size="8.2" fill="#777" textLength="17.6" lengthAdjust="spacingAndGlyphs">15.50</text>
<line x1="843" y1="78.7" x2="846" y2="78.7" stroke="#888" stroke-width="1"/>
<text x="849" y="81.6" font-size="8.2" fill="#777" textLength="17.6" lengthAdjust="spacingAndGlyphs">15.00</text>
<line x1="843" y1="98.9" x2="846" y2="98.9" stroke="#888" stroke-width="1"/>
<text x="849" y="101.8" font-size="8.2" fill="#777" textLength="17.6" lengthAdjust="spacingAndGlyphs">14.50</text>
<line x1="843" y1="119.0" x2="846" y2="119.0" stroke="#888" stroke-width="1"/>
<text x="849" y="121.9" font-size="8.2" fill="#777" textLength="17.6" lengthAdjust="spacingAndGlyphs">14.00</text>
<line x1="843" y1="139.1" x2="846" y2="139.1" stroke="#888" stroke-width="1"/>
<text x="849" y="142.0" font-size="8.2" fill="#777" textLength="17.6" lengthAdjust="spacingAndGlyphs">13.50</text>
<line x1="843" y1="159.2" x2="846" y2="159.2" stroke="#888" stroke-width="1"/>
<text x="849" y="162.1" font-size="8.2" fill="#777" textLength="17.6" lengthAdjust="spacingAndGlyphs">13.00</text>
<line x1="843" y1="179.3" x2="846" y2="179.3" stroke="#888" stroke-width="1"/>
<text x="849" y="182.2" font-size="8.2" fill="#777" textLength="17.6" lengthAdjust="spacingAndGlyphs">12.50</text>
<line x1="843" y1="199.5" x2="846" y2="199.5" stroke="#888" stroke-width="1"/>
<text x="849" y="202.4" font-size="8.2" fill="#777" textLength="17.6" lengthAdjust="spacingAndGlyphs">12.00</text>
<line x1="843" y1="219.6" x2="846" y2="219.6" stroke="#888" stroke-width="1"/>
<text x="849" y="222.5" font-size="8.2" fill="#777" textLength="17.6" lengthAdjust="spacingAndGlyphs">11.50</text>
<line x1="843" y1="239.7" x2="846" y2="239.7" stroke="#888" stroke-width="1"/>
<text x="849" y="242.6" font-size="8.2" fill="#777" textLength="17.6" lengthAdjust="spacingAndGlyphs">11.00</text>
<line x1="843" y1="259.8" x2="846" y2="259.8" stroke="#888" stroke-width="1"/>
<text x="849" y="262.7" font-size="8.2" fill="#777" textLength="17.6" lengthAdjust="spacingAndGlyphs">10.50</text>
<line x1="843" y1="279.9" x2="846" y2="279.9" stroke="#888" stroke-width="1"/>
<text x="849" y="282.8" font-size="8.2" fill="#777" textLength="17.6" lengthAdjust="spacingAndGlyphs">10.00</text>
<line x1="843" y1="300.1" x2="846" y2="300.1" stroke="#888" stroke-width="1"/>
<text x="849" y="303.0" font-size="8.2" fill="#777" textLength="13.2" lengthAdjust="spacingAndGlyphs">9.50</text>
<line x1="843" y1="320.2" x2="846" y2="320.2" stroke="#888" stroke-width="1"/>
<text x="849" y="323.1" font-size="8.2" fill="#777" textLength="13.2" lengthAdjust="spacingAndGlyphs">9.00</text>
<line x1="843" y1="340.3" x2="846" y2="340.3" stroke="#888" stroke-width="1"/>
<text x="849" y="343.2" font-size="8.2" fill="#777" textLength="13.2" lengthAdjust="spacingAndGlyphs">8.50</text>
<line x1="843" y1="360.4" x2="846" y2="360.4" stroke="#888" stroke-width="1"/>
<text x="849" y="363.3" font-size="8.2" fill="#777" textLength="13.2" lengthAdjust="spacingAndGlyphs">8.00</text>
<rect x="843" y="125" width="30" height="11" fill="#000"/>
<text x="849" y="133.2" font-size="8.2" font-weight="bold" fill="#fff" textLength="17.2" lengthAdjust="spacingAndGlyphs">13.71</text>
<rect x="843" y="145" width="30" height="11" fill="#000"/>
<text x="849" y="153.2" font-size="8.2" font-weight="bold" fill="#fff" textLength="17.2" lengthAdjust="spacingAndGlyphs">13.23</text>
<rect x="843" y="264" width="30" height="11" fill="#26a69a"/>
<text x="849" y="272.2" font-size="8.2" font-weight="bold" fill="#fff" textLength="17.2" lengthAdjust="spacingAndGlyphs">10.26</text>
<rect x="843" y="275" width="30" height="11" fill="#000"/>
<text x="849" y="283.2" font-size="8.2" font-weight="bold" fill="#fff" textLength="17.2" lengthAdjust="spacingAndGlyphs">10.20</text>
<rect x="843" y="329" width="30" height="11" fill="#000"/>
<text x="849" y="337.2" font-size="8.2" font-weight="bold" fill="#fff" textLength="13" lengthAdjust="spacingAndGlyphs">8.64</text>
<rect x="843" y="344" width="30" height="11" fill="#000"/>
<text x="849" y="352.2" font-size="8.2" font-weight="bold" fill="#fff" textLength="13" lengthAdjust="spacingAndGlyphs">8.29</text>
<line x1="36.4" y1="369" x2="36.4" y2="372" stroke="#888" stroke-width="1"/>
<text transform="translate(36.4,382) scale(0.86,1)" x="0" y="0" font-size="8.2" fill="#777" text-anchor="middle">Aug</text>
<line x1="88.5" y1="369" x2="88.5" y2="372" stroke="#888" stroke-width="1"/>
<text transform="translate(88.5,382) scale(0.86,1)" x="0" y="0" font-size="8.2" fill="#777" text-anchor="middle">2</text>
<line x1="151.5" y1="369" x2="151.5" y2="372" stroke="#888" stroke-width="1"/>
<text transform="translate(151.5,382) scale(0.86,1)" x="0" y="0" font-size="8.2" fill="#777" text-anchor="middle">Oct</text>
<line x1="223" y1="369" x2="223" y2="372" stroke="#888" stroke-width="1"/>
<text transform="translate(223,382) scale(0.86,1)" x="0" y="0" font-size="8.2" fill="#777" text-anchor="middle">Nov</text>
<line x1="284.7" y1="369" x2="284.7" y2="372" stroke="#888" stroke-width="1"/>
<text transform="translate(284.7,382) scale(0.86,1)" x="0" y="0" font-size="8.2" fill="#777" text-anchor="middle">Dec</text>
<line x1="356.4" y1="369" x2="356.4" y2="372" stroke="#888" stroke-width="1"/>
<text transform="translate(356.4,382) scale(0.945,1)" x="0" y="0" font-size="8.2" fill="#555" text-anchor="middle" font-weight="bold">2020</text>
<line x1="425.3" y1="369" x2="425.3" y2="372" stroke="#888" stroke-width="1"/>
<text transform="translate(425.3,382) scale(0.86,1)" x="0" y="0" font-size="8.2" fill="#777" text-anchor="middle">Feb</text>
<line x1="487.4" y1="369" x2="487.4" y2="372" stroke="#888" stroke-width="1"/>
<text transform="translate(487.4,382) scale(0.86,1)" x="0" y="0" font-size="8.2" fill="#777" text-anchor="middle">Mar</text>
<line x1="559.3" y1="369" x2="559.3" y2="372" stroke="#888" stroke-width="1"/>
<text transform="translate(559.3,382) scale(0.86,1)" x="0" y="0" font-size="8.2" fill="#777" text-anchor="middle">Apr</text>
<line x1="627.5" y1="369" x2="627.5" y2="372" stroke="#888" stroke-width="1"/>
<text transform="translate(627.5,382) scale(0.86,1)" x="0" y="0" font-size="8.2" fill="#777" text-anchor="middle">May</text>
<line x1="693" y1="369" x2="693" y2="372" stroke="#888" stroke-width="1"/>
<text transform="translate(693,382) scale(0.86,1)" x="0" y="0" font-size="8.2" fill="#777" text-anchor="middle">8</text>
<line x1="745.6" y1="369" x2="745.6" y2="372" stroke="#888" stroke-width="1"/>
<text transform="translate(745.6,382) scale(0.86,1)" x="0" y="0" font-size="8.2" fill="#777" text-anchor="middle">Jul</text>
<line x1="814.5" y1="369" x2="814.5" y2="372" stroke="#888" stroke-width="1"/>
<text transform="translate(814.5,382) scale(0.86,1)" x="0" y="0" font-size="8.2" fill="#777" text-anchor="middle">Aug</text>
</svg></body></html>
